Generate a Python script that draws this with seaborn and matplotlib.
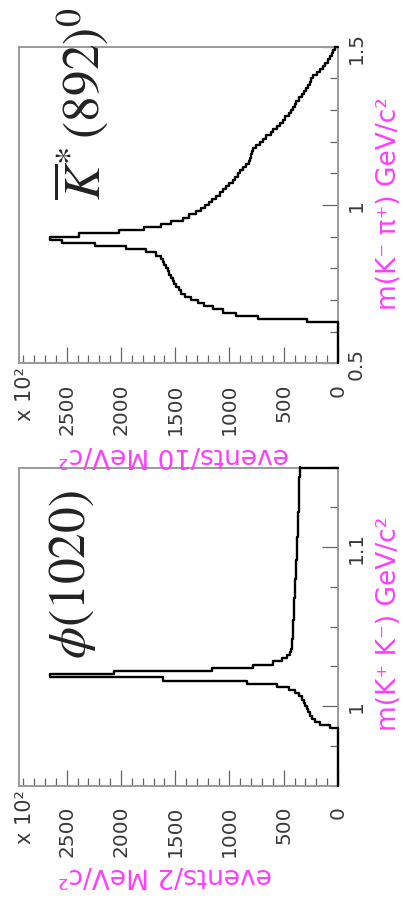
import numpy as np
import pandas as pd
import matplotlib
matplotlib.use("Agg")
import matplotlib.pyplot as plt
from matplotlib.ticker import MultipleLocator, FuncFormatter
import seaborn as sns

# ---------------- data (events in units of 10^2, as on the axes) ----------------
phi_range = [0.95, 1.15]          # m(K+K-) GeV/c^2, 2 MeV bins
phi_bin = 0.002
phi_events = [
    0, 0, 0, 0, 0, 0, 0, 0, 0, 0, 0, 0, 0, 0, 0, 0, 0, 0,
    75, 167, 213, 241, 260, 273, 287, 300, 315, 333, 360, 400, 455, 560, 840,
    1617, 2651, 2065, 1157, 787, 600, 520, 470, 445, 432, 425, 421, 420, 418,
    417, 416, 414, 414, 412, 410, 409, 407, 406, 404, 403, 401, 400, 398, 397,
    396, 394, 393, 391, 390, 388, 387, 385, 384, 382, 381, 380, 378, 377, 376,
    374, 373, 372, 370, 369, 367, 366, 366, 365, 364, 363, 362, 361, 360, 359,
    358, 357, 357, 356, 355, 354, 353, 352,
]

kst_range = [0.5, 1.5]            # m(K- pi+) GeV/c^2, 10 MeV bins
kst_bin = 0.01
kst_events = [
    0, 0, 0, 0, 0, 0, 0, 0, 0, 0, 0, 0, 0,
    290, 738, 938, 1062, 1154, 1231, 1293, 1355, 1407, 1448, 1469, 1494, 1509,
    1525, 1540, 1556, 1571, 1586, 1602, 1617, 1630, 1680, 1770, 1950, 2240,
    2545, 2650, 2390, 2020, 1790, 1635, 1540, 1430, 1370, 1310, 1265, 1225,
    1190, 1160, 1120, 1090, 1062, 1030, 1000, 969, 950, 925, 907, 880, 845,
    820, 812, 805, 795, 785, 760, 720, 690, 660, 620, 595, 565, 535, 506, 485,
    455, 430, 415, 395, 385, 360, 330, 310, 295, 280, 262, 245, 230, 195, 165,
    140, 118, 95, 74, 58, 42, 25,
]

event_ticks = [0, 500, 1000, 1500, 2000, 2500]

# ---------------- figure ----------------
sns.set_theme(style="white")
plt.rcParams["font.family"] = ["DejaVu Sans"]
plt.rcParams["mathtext.fontset"] = "dejavusans"

W, H = 403, 904
fig = plt.figure(figsize=(W / 100, H / 100), dpi=100)
fig.patch.set_facecolor("white")

def rect(l, t, r, b):
    return [l / W, 1 - b / H, (r - l) / W, (b - t) / H]

MAG = "#ff3cff"
TXT = "#3a3a3a"
SP = "#9a9a9a"

panels = [
    dict(rect=rect(19, 47.7, 338, 364.3), rng=kst_range, bw=kst_bin, ev=kst_events,
         major=0.5, minor=0.1, mlabel="m(K\u207b \u03c0\u207a) GeV/c\u00b2", mlab_top=97,
         elabel="events/10 MeV/c\u00b2", elab_y=455, x10_top=367,
         title=r"$\overline{K}^{*}\,\mathrm{(892)}^{0}$", title_x=81, title_top=7),
    dict(rect=rect(19, 468.5, 338, 786.5), rng=phi_range, bw=phi_bin, ev=phi_events,
         major=0.1, minor=0.025, mlabel="m(K\u207a K\u207b) GeV/c\u00b2", mlab_top=517,
         elabel="events/2 MeV/c\u00b2", elab_y=875, x10_top=790,
         title=r"$\phi\mathrm{(1020)}$", title_x=73, title_top=490),
]

for p in panels:
    ax = fig.add_axes(p["rect"])
    lo, hi = p["rng"]
    n = len(p["ev"])
    edges = lo + p["bw"] * np.arange(n + 1)
    centers = 0.5 * (edges[:-1] + edges[1:])
    df = pd.DataFrame({"mass": centers, "events": p["ev"]})
    sns.histplot(data=df, y="mass", weights="events", bins=[float(e) for e in edges],
                 element="step", fill=False, color="black", linewidth=1.7, ax=ax)
    line = ax.lines[-1]
    line.set_clip_on(False)
    line.set_zorder(3)
    # close the outline down to zero at the upper end of the range
    ax.plot([p["ev"][-1], 0], [edges[-1], edges[-1]], color="black", lw=1.7,
            clip_on=False, zorder=3)

    ax.set_xlim(2940, 0)
    ax.set_ylim(lo, hi)
    ax.set_xlabel("")
    ax.set_ylabel("")
    ax.grid(False)
    ax.set_facecolor("white")
    for s in ax.spines.values():
        s.set_color(SP)
        s.set_linewidth(1.4)
        s.set_visible(True)

    ax.xaxis.set_major_locator(plt.FixedLocator(event_ticks))
    ax.xaxis.set_minor_locator(MultipleLocator(100))
    ax.yaxis.set_major_locator(MultipleLocator(p["major"]))
    ax.yaxis.set_minor_locator(MultipleLocator(p["minor"]))
    ax.yaxis.set_major_formatter(FuncFormatter(lambda v, pos: "%g" % round(v, 3)))

    ax.tick_params(axis="x", which="major", direction="in", length=11.5, width=0.9,
                   color="#666666", pad=14, labelsize=14.5, labelcolor=TXT,
                   labelrotation=90, bottom=True, top=False)
    ax.tick_params(axis="x", which="minor", direction="in", length=5.8, width=0.9,
                   color="#666666", bottom=True, top=False)
    ax.tick_params(axis="y", which="major", direction="in", length=11.5, width=0.9,
                   color="#666666", pad=6, labelsize=14.5, labelcolor=TXT,
                   labelrotation=90, left=False, right=True,
                   labelleft=False, labelright=True)
    ax.tick_params(axis="y", which="minor", direction="in", length=5.8, width=0.9,
                   color="#666666", left=False, right=True)
    for lbl in ax.get_yticklabels():
        lbl.set_verticalalignment("center")

    # axis titles and decorations
    fig.text(389 / W, 1 - p["mlab_top"] / H, p["mlabel"], rotation=90, ha="center",
             va="top", color=MAG, fontsize=19)
    fig.text(58 / W, 1 - p["elab_y"] / H, p["elabel"], rotation=180, ha="left",
             va="center", color=MAG, fontsize=19)
    fig.text(25 / W, 1 - p["x10_top"] / H, "x 10\u00b2", rotation=90, ha="center",
             va="top", color=TXT, fontsize=15)
    fig.text(p["title_x"] / W, 1 - p["title_top"] / H, p["title"], rotation=90,
             ha="center", va="top", color="#222222", fontsize=37,
             math_fontfamily="stix")

fig.savefig("out.png", dpi=100, facecolor="white")
